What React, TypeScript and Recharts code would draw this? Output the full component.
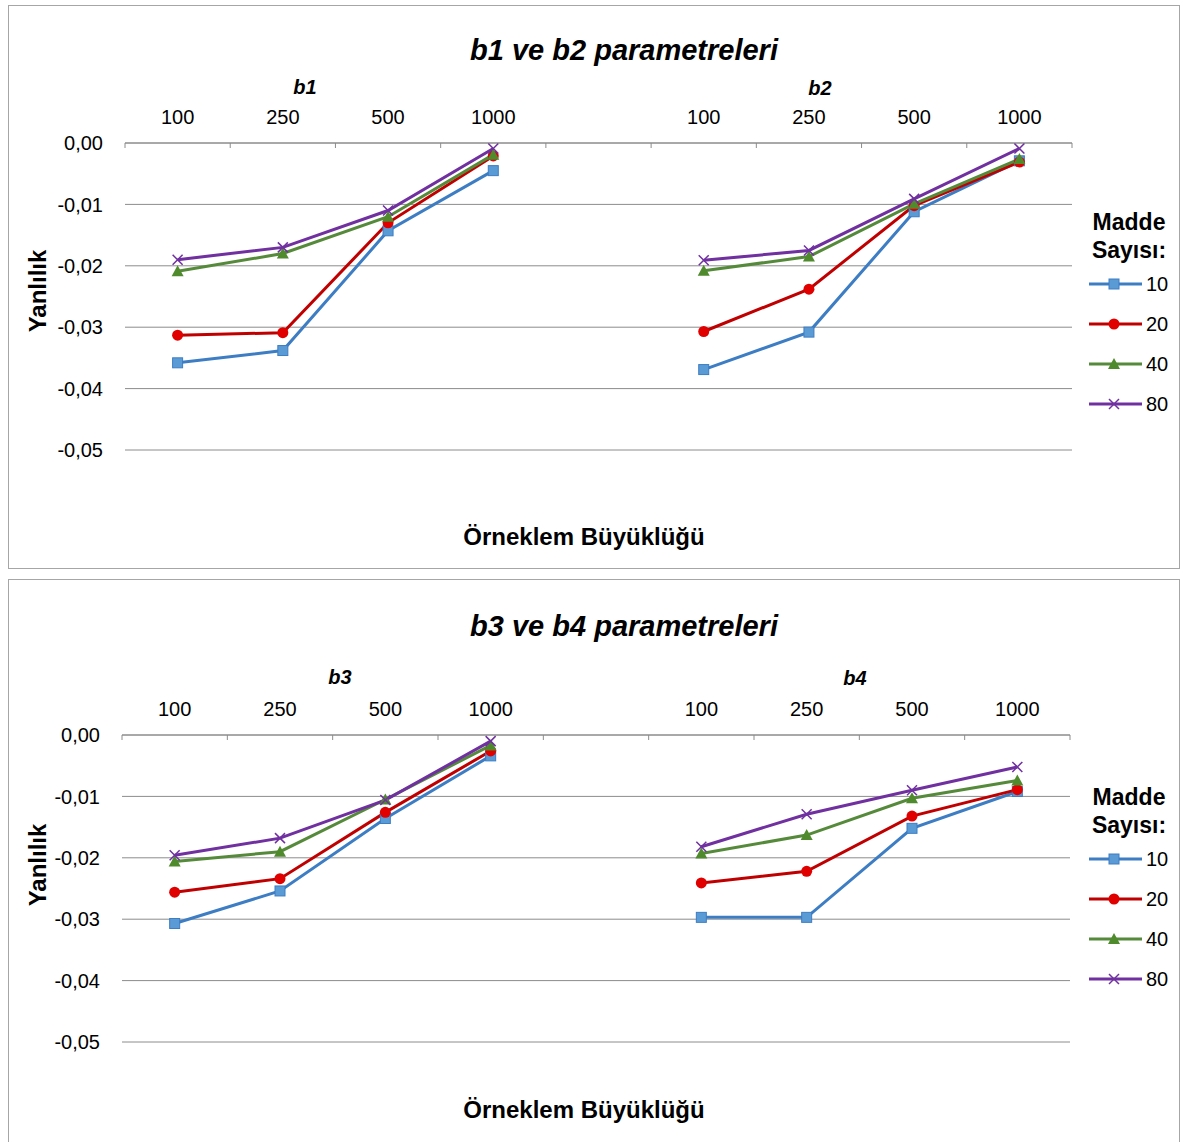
import { LineChart, Line, XAxis, YAxis, CartesianGrid, Legend } from 'recharts'

const FONT = '"Liberation Sans", Arial, sans-serif'
const AXIS = '#8c8c8c'

const sampleSizes = ['100', '250', '500', '1000']
const itemCounts = ['10', '20', '40', '80']
const yTicks = [0, -0.01, -0.02, -0.03, -0.04, -0.05]

// b1 / b2 (rows: 10, 20, 40, 80 items; cols: 100, 250, 500, 1000)
const b1_10 = [-0.0358, -0.0338, -0.0143, -0.0045]
const b1_20 = [-0.0313, -0.0309, -0.013, -0.0021]
const b1_40 = [-0.0209, -0.018, -0.012, -0.0019]
const b1_80 = [-0.019, -0.017, -0.011, -0.0009]

const b2_10 = [-0.0369, -0.0308, -0.0112, -0.0029]
const b2_20 = [-0.0307, -0.0238, -0.0102, -0.0031]
const b2_40 = [-0.0208, -0.0185, -0.0099, -0.0026]
const b2_80 = [-0.0191, -0.0175, -0.0091, -0.0009]

// b3 / b4
const b3_10 = [-0.0307, -0.0254, -0.0136, -0.0034]
const b3_20 = [-0.0256, -0.0234, -0.0126, -0.0026]
const b3_40 = [-0.0206, -0.019, -0.0105, -0.0017]
const b3_80 = [-0.0196, -0.0168, -0.0106, -0.001]

const b4_10 = [-0.0297, -0.0297, -0.0152, -0.0092]
const b4_20 = [-0.0241, -0.0222, -0.0132, -0.0089]
const b4_40 = [-0.0193, -0.0163, -0.0103, -0.0074]
const b4_80 = [-0.0182, -0.0129, -0.009, -0.0052]

type Shape = 'square' | 'circle' | 'triangle' | 'cross'
const seriesStyle: { name: string; line: string; fill: string; shape: Shape }[] = [
  { name: '10', line: '#3c7dc4', fill: '#5b9bd5', shape: 'square' },
  { name: '20', line: '#c00000', fill: '#e00000', shape: 'circle' },
  { name: '40', line: '#558a3a', fill: '#4f8a2c', shape: 'triangle' },
  { name: '80', line: '#7030a0', fill: '#7030a0', shape: 'cross' },
]

function buildRows(left: string, right: string, l: number[][], r: number[][]) {
  const rows: any[] = []
  sampleSizes.forEach((n, i) => {
    const row: any = { cat: `${left}-${n}`, label: n }
    itemCounts.forEach((_, s) => { row[`s${s}`] = l[s][i] })
    rows.push(row)
  })
  const gap: any = { cat: 'gap', label: '' }
  itemCounts.forEach((_, s) => { gap[`s${s}`] = null })
  rows.push(gap)
  sampleSizes.forEach((n, i) => {
    const row: any = { cat: `${right}-${n}`, label: n }
    itemCounts.forEach((_, s) => { row[`s${s}`] = r[s][i] })
    rows.push(row)
  })
  return rows
}

const rowsTop = buildRows('b1', 'b2', [b1_10, b1_20, b1_40, b1_80], [b2_10, b2_20, b2_40, b2_80])
const rowsBottom = buildRows('b3', 'b4', [b3_10, b3_20, b3_40, b3_80], [b4_10, b4_20, b4_40, b4_80])

function Marker({ cx, cy, shape, line, fill }: { cx: number; cy: number; shape: Shape; line: string; fill: string }) {
  if (cx == null || cy == null) return null
  if (shape === 'square') return <rect x={cx - 5} y={cy - 5} width={10} height={10} fill={fill} stroke={line} strokeWidth={1} />
  if (shape === 'circle') return <circle cx={cx} cy={cy} r={5.5} fill={fill} />
  if (shape === 'triangle') return <polygon points={`${cx},${cy - 6} ${cx + 6},${cy + 5} ${cx - 6},${cy + 5}`} fill={fill} />
  return (
    <g stroke={line} strokeWidth={1.5}>
      <line x1={cx - 5} y1={cy - 5} x2={cx + 5} y2={cy + 5} />
      <line x1={cx - 5} y1={cy + 5} x2={cx + 5} y2={cy - 5} />
    </g>
  )
}

function LegendBox({ payload }: any) {
  return (
    <div style={{ fontFamily: FONT, width: 96 }}>
      <div style={{ fontWeight: 'bold', fontSize: 23, lineHeight: '28px', textAlign: 'center', width: 86 }}>
        Madde<br />Sayısı:
      </div>
      {(payload || []).map((p: any) => {
        const st = seriesStyle.find((s) => s.name === p.value)!
        return (
          <div key={p.value} style={{ display: 'flex', alignItems: 'center', height: 40 }}>
            <svg width={58} height={40}>
              <line x1={3} x2={56} y1={20} y2={20} stroke={st.line} strokeWidth={3} />
              <Marker cx={28} cy={20} shape={st.shape} line={st.line} fill={st.fill} />
            </svg>
            <span style={{ fontSize: 20, marginLeft: 2 }}>{p.value}</span>
          </div>
        )
      })}
    </div>
  )
}

function Txt({ x, y, size, bold, italic, rotate, children }: any) {
  return (
    <div
      style={{
        position: 'absolute', left: x, top: y, whiteSpace: 'nowrap', lineHeight: 1,
        transform: `translate(-50%, -50%)${rotate ? ' rotate(-90deg)' : ''}`,
        fontSize: size, fontWeight: bold ? 'bold' : 'normal', fontStyle: italic ? 'italic' : 'normal',
        fontFamily: FONT, color: '#000',
      }}
    >
      {children}
    </div>
  )
}

interface PanelProps {
  rows: any[]
  chartTop: number
  left: number
  right: number
  legendTop: number
}

function Panel({ rows, chartTop, left, right, legendTop }: PanelProps) {
  const CategoryTick = (props: any) => {
    const { x, y, payload, index } = props
    const half = payload?.offset ?? 0
    return (
      <g>
        <text x={x} y={y - 19} textAnchor="middle" fontSize={20} fontFamily={FONT} fill="#000">
          {rows[index]?.label}
        </text>
        <line x1={x - half} x2={x - half} y1={y} y2={y + 5} stroke={AXIS} />
        {index === rows.length - 1 && <line x1={x + half} x2={x + half} y1={y} y2={y + 5} stroke={AXIS} />}
      </g>
    )
  }
  return (
    <div style={{ position: 'absolute', left: 0, top: chartTop }}>
      <LineChart width={1184} height={470} data={rows} margin={{ top: 100, left, right, bottom: 20 }}>
        <CartesianGrid horizontal vertical={false} stroke={AXIS} />
        <XAxis
          dataKey="cat" orientation="top" scale="band" height={43} interval={0}
          tickSize={0} tickMargin={0} tickLine={false} axisLine={{ stroke: AXIS }}
          tick={CategoryTick}
        />
        <YAxis
          domain={[-0.05, 0]} ticks={yTicks} width={60} tickSize={0} tickMargin={22}
          axisLine={false} tickLine={false} interval={0}
          tickFormatter={(v: number) => v.toFixed(2).replace('.', ',')}
          tick={{ fontSize: 20, fill: '#000', fontFamily: FONT }}
        />
        <Legend
          layout="vertical" align="center" verticalAlign="middle"
          wrapperStyle={{ left: 1086, top: legendTop, width: 96 }}
          content={<LegendBox />}
        />
        {seriesStyle.map((st, s) => (
          <Line
            key={st.name} dataKey={`s${s}`} name={st.name} stroke={st.line} strokeWidth={3}
            isAnimationActive={false} connectNulls={false}
            dot={(p: any) => <Marker key={p.index} cx={p.cx} cy={p.cy} shape={st.shape} line={st.line} fill={st.fill} />}
            activeDot={false}
          />
        ))}
      </LineChart>
    </div>
  )
}

export default function App() {
  return (
    <div style={{ position: 'absolute', left: 0, top: 0, width: 1184, height: 1142, overflow: 'hidden', background: '#fff', fontFamily: FONT }}>
      <div style={{ position: 'absolute', left: 8, top: 5, width: 1172, height: 564, border: '1px solid #a6a6a6', boxSizing: 'border-box' }} />
      <div style={{ position: 'absolute', left: 8, top: 579, width: 1172, height: 620, border: '1px solid #a6a6a6', boxSizing: 'border-box' }} />

      <Panel rows={rowsTop} chartTop={0} left={65} right={112} legendTop={208} />
      <Panel rows={rowsBottom} chartTop={592} left={62} right={114} legendTop={191} />

      <Txt x={624} y={50} size={29} bold italic>b1 ve b2 parametreleri</Txt>
      <Txt x={305} y={87} size={20} bold italic>b1</Txt>
      <Txt x={820} y={88} size={20} bold italic>b2</Txt>
      <Txt x={584} y={537} size={24} bold>Örneklem Büyüklüğü</Txt>
      <Txt x={38} y={291} size={24} bold rotate>Yanlılık</Txt>

      <Txt x={624} y={626} size={29} bold italic>b3 ve b4 parametreleri</Txt>
      <Txt x={340} y={677} size={20} bold italic>b3</Txt>
      <Txt x={855} y={678} size={20} bold italic>b4</Txt>
      <Txt x={584} y={1110} size={24} bold>Örneklem Büyüklüğü</Txt>
      <Txt x={38} y={865} size={24} bold rotate>Yanlılık</Txt>
    </div>
  )
}
